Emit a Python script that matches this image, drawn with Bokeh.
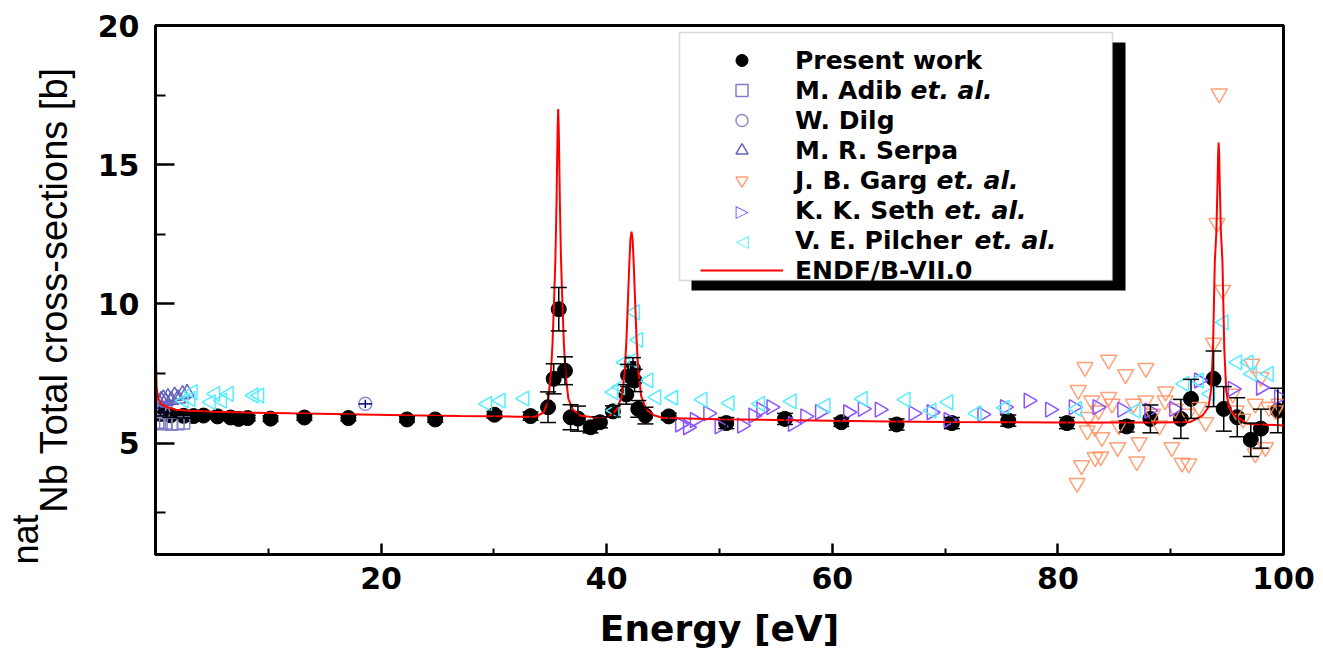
import numpy as np
from bokeh.plotting import figure
from bokeh.models import (Range1d, FixedTicker, Legend, LegendItem, ColumnDataSource,
                          Whisker, TeeHead, BoxAnnotation, Label, Title)
from bokeh.embed import file_html
from bokeh.resources import INLINE

# ---------------- data ----------------
pw_energy = [0.44, 1.33, 2.49, 3.37, 4.26, 5.5, 6.66, 7.37, 8.17, 10.2, 13.2, 17.1, 22.3, 24.8,
             30.05, 33.25, 34.8, 35.3, 35.75, 36.3, 36.8, 37.45, 38.57, 39.4, 40.55, 41.74, 41.9,
             42.33, 42.47, 42.8, 43.43, 45.5, 50.6, 55.8, 60.8, 65.7, 70.6, 75.6, 80.8, 86.1,
             88.2, 90.9, 91.8, 93.8, 94.7, 95.9, 97.1, 98.0, 99.5]
pw_sigma = [6.05, 6.0, 5.98, 5.97, 5.99, 5.96, 5.92, 5.87, 5.9, 5.88, 5.92, 5.9, 5.85, 5.85,
            6.02, 5.97, 6.29, 7.31, 9.81, 7.6, 5.93, 5.88, 5.57, 5.75, 6.14, 6.75, 7.43,
            7.67, 7.25, 6.23, 5.99, 5.96, 5.72, 5.87, 5.75, 5.67, 5.72, 5.81, 5.72, 5.6,
            5.87, 5.87, 6.59, 7.31, 6.23, 5.93, 5.12, 5.52, 6.17]
pw_err = [0.08, 0.08, 0.08, 0.08, 0.08, 0.08, 0.1, 0.1, 0.1, 0.1, 0.1, 0.1, 0.1, 0.1,
          0.12, 0.15, 0.55, 0.54, 0.78, 0.5, 0.45, 0.45, 0.2, 0.2, 0.2, 0.35, 0.4,
          0.4, 0.4, 0.3, 0.3, 0.12, 0.2, 0.2, 0.15, 0.2, 0.2, 0.2, 0.2, 0.2,
          0.5, 0.7, 0.7, 1.0, 0.8, 0.7, 0.6, 0.7, 0.8]

adib_energy = [0.2, 0.5, 0.9, 1.4, 2.0, 2.5]
adib_sigma = [5.75, 5.7, 5.72, 5.68, 5.7, 5.72]

dilg_energy = [0.35, 0.7, 18.6]
dilg_sigma = [6.25, 6.1, 6.41]
dilg_sigma_err = [0.05, 0.05, 0.15]
dilg_energy_err = [0.1, 0.1, 0.6]

serpa_energy = [0.3, 0.5, 0.7, 0.9, 1.1, 1.4, 1.7, 2.0, 2.4, 2.8]
serpa_sigma = [6.45, 6.55, 6.6, 6.5, 6.65, 6.55, 6.7, 6.6, 6.75, 6.8]

garg_energy = [81.7, 81.8, 82.1, 82.4, 82.6, 82.7, 83.0, 83.3, 83.3, 83.6, 83.8, 83.9, 84.5,
               84.5, 84.8, 85.3, 85.4, 86.0, 86.7, 87.0, 87.2, 87.8, 87.8, 88.4, 89.0, 89.5,
               89.55, 90.1, 90.4, 91.0, 91.5, 91.6, 92.5, 93.1, 93.8, 94.1, 94.3, 94.6, 95.5,
               95.8, 96.4, 97.2, 97.5, 97.5, 98.0, 98.4, 98.7, 99.3, 99.6]
garg_sigma = [3.56, 6.9, 4.2, 7.73, 5.45, 5.93, 6.53, 4.49, 5.57, 6.17, 4.52, 5.21, 7.99,
              6.65, 6.41, 4.85, 5.63, 7.47, 6.41, 4.34, 5.03, 7.69, 6.53, 6.05, 5.63, 6.53,
              6.85, 4.85, 6.23, 4.29, 6.05, 4.26, 6.29, 5.75, 8.6, 12.9, 17.55, 10.5, 6.77,
              6.17, 5.87, 7.85, 6.41, 4.62, 7.37, 4.85, 6.29, 6.17, 6.41]

seth_energy = [46.5, 47.2, 47.8, 49.0, 50.0, 52.0, 53.0, 53.7, 54.6, 56.5, 57.6, 58.9, 61.4,
               62.7, 64.2, 67.2, 68.8, 70.3, 73.3, 75.3, 77.4, 79.3, 81.4, 83.5, 85.7, 88.1,
               90.3, 92.5, 95.5, 98.0, 99.6]
seth_sigma = [5.67, 5.57, 5.83, 6.07, 5.6, 5.63, 5.99, 6.2, 6.29, 5.69, 5.96, 6.11, 6.11,
              6.23, 6.2, 6.07, 6.11, 5.83, 6.03, 6.29, 6.53, 6.2, 6.29, 6.29, 6.2, 6.17,
              6.23, 7.25, 6.95, 6.99, 6.65]

pilcher_energy = [2.5, 3.1, 3.3, 4.9, 5.3, 5.9, 6.5, 8.7, 9.2, 29.4, 30.6, 32.7, 40.6, 40.7,
                  41.2, 41.6, 42.3, 42.5, 42.8, 43.7, 44.4, 45.9, 48.5, 50.9, 53.6, 56.4, 59.4,
                  62.7, 66.5, 68.8, 70.3, 72.8, 75.3, 81.7, 86.9, 91.2, 92.5, 93.5, 94.7, 95.9,
                  96.9, 97.2, 98.7]
pilcher_sigma = [6.53, 6.59, 6.83, 6.47, 6.77, 6.53, 6.77, 6.71, 6.71, 6.41, 6.53, 6.6, 6.83,
                 6.17, 7.01, 7.9, 7.97, 9.7, 8.71, 7.25, 6.65, 6.63, 6.56, 6.44, 6.41, 6.5, 6.35,
                 6.59, 6.56, 6.17, 6.47, 6.07, 6.27, 6.23, 6.17, 7.13, 7.25, 6.77, 9.34, 7.9,
                 7.9, 7.49, 7.49]

endf_energy = [0.02, 0.06, 0.1, 0.25, 0.5, 1.0, 1.8, 3.0, 5.0, 8.0, 12.0, 17.0, 22.0, 27.0,
               32.0, 33.7, 34.4, 34.8, 35.05, 35.2, 35.35, 35.45, 35.55, 35.6, 35.65, 35.7,
               35.75, 35.8, 35.85, 35.95, 36.05, 36.2, 36.35, 36.6, 37.0, 37.7, 39.0, 40.2,
               40.9, 41.35, 41.6, 41.75, 41.9, 42.0, 42.1, 42.2, 42.3, 42.4, 42.5, 42.65,
               42.8, 43.05, 43.5, 44.2, 45.0, 50.0, 55.0, 60.0, 65.0, 70.0, 75.0, 80.0, 85.0,
               89.0, 91.75, 92.85, 93.35, 93.58, 93.75, 93.91, 94.05, 94.15, 94.2, 94.25,
               94.3, 94.35, 94.45, 94.59, 94.75, 94.92, 95.15, 95.65, 96.75, 100.0]
endf_sigma = [8.9, 7.8, 7.0, 6.6, 6.4, 6.3, 6.2, 6.16, 6.13, 6.1, 6.07, 6.04, 6.0, 5.97,
              5.95, 5.95, 6.1, 6.5, 7.5, 8.6, 10.3, 11.6, 13.6, 15.0, 16.3, 17.0,
              16.3, 15.0, 13.6, 11.6, 10.3, 8.6, 7.5, 6.6, 6.2, 5.98, 5.92, 5.95,
              6.2, 6.7, 7.6, 8.7, 10.3, 11.4, 12.3, 12.6, 12.3, 11.4, 10.3, 8.7,
              7.6, 6.7, 6.2, 6.0, 5.9, 5.86, 5.83, 5.8, 5.78, 5.76, 5.75, 5.74, 5.74,
              5.74, 5.76, 6.0, 6.3, 6.9, 8.4, 11.5, 12.6, 14.3, 15.3, 15.8,
              15.3, 14.3, 12.6, 11.5, 8.4, 6.9, 6.3, 6.0, 5.7, 5.63]

x_ticks = [20, 40, 60, 80, 100]
x_minor = [10, 30, 50, 70, 90]
y_ticks = [5, 10, 15, 20]
y_minor = [2.5, 7.5, 12.5, 17.5]

legend_labels = ["Present work", "M. Adib", "W. Dilg", "M. R. Serpa", "J. B. Garg",
                 "K. K. Seth", "V. E. Pilcher", "ENDF/B-VII.0"]
italic_suffix = "et. al."

# ---------------- figure ----------------
p = figure(width=1323, height=654, output_backend="svg", toolbar_location=None,
           x_range=Range1d(0, 100), y_range=Range1d(1, 20),
           min_border_left=155, min_border_right=40, min_border_top=25, min_border_bottom=100)
p.grid.visible = False
p.background_fill_color = "white"
p.border_fill_color = "white"
p.outline_line_color = "black"
p.outline_line_width = 3

tick_font = "DejaVu Sans"
for ax in (p.xaxis[0], p.yaxis[0]):
    ax.axis_line_width = 3
    ax.axis_line_color = "black"
    ax.major_tick_out = 0
    ax.minor_tick_out = 0
    ax.major_tick_line_width = 2.5
    ax.minor_tick_line_width = 2
    ax.major_label_text_font = tick_font
    ax.major_label_text_font_style = "bold"
    ax.major_label_text_font_size = "30px"
    ax.major_label_text_color = "black"
    ax.axis_label_text_color = "black"

p.xaxis.ticker = FixedTicker(ticks=x_ticks, minor_ticks=x_minor)
p.xaxis.major_tick_in = 11
p.xaxis.minor_tick_in = 6
p.xaxis.major_label_standoff = 12
p.xaxis.axis_label = "Energy [eV]"
p.xaxis.axis_label_text_font = "DejaVu Sans"
p.xaxis.axis_label_text_font_style = "bold"
p.xaxis.axis_label_text_font_size = "36px"
p.xaxis.axis_label_standoff = 16

p.yaxis.ticker = FixedTicker(ticks=y_ticks, minor_ticks=y_minor)
p.yaxis.major_tick_in = 19
p.yaxis.minor_tick_in = 10
p.yaxis.major_label_standoff = 16
p.yaxis.axis_label = "Nb Total cross-sections [b]"
p.yaxis.axis_label_text_font = "Liberation Sans"
p.yaxis.axis_label_text_font_style = "normal"
p.yaxis.axis_label_text_font_size = "38px"
p.yaxis.axis_label_standoff = 20

# superscript "nat" in front of the y-axis title
p.add_layout(Title(text="nat", align="left", offset=-10, standoff=-32,
                   text_font="Liberation Sans", text_font_style="normal",
                   text_font_size="36px", text_color="black"), "left")

# ---------------- glyphs ----------------
pw_src = ColumnDataSource(dict(
    x=pw_energy, y=pw_sigma,
    upper=[s + e for s, e in zip(pw_sigma, pw_err)],
    lower=[s - e for s, e in zip(pw_sigma, pw_err)]))
pw_wh = Whisker(source=pw_src, base="x", upper="upper", lower="lower", level="glyph",
                line_color="black", line_width=1.5,
                upper_head=TeeHead(size=16, line_color="black", line_width=1.5),
                lower_head=TeeHead(size=16, line_color="black", line_width=1.5))
p.add_layout(pw_wh)
pw = p.scatter("x", "y", source=pw_src, marker="circle", size=15,
               fill_color="black", line_color="black")

adib = p.scatter(adib_energy, adib_sigma, marker="square", size=12, fill_color=None,
                 line_color="#8080C8", line_width=1.5)

dilg_src = ColumnDataSource(dict(
    x=dilg_energy, y=dilg_sigma,
    up=[s + e for s, e in zip(dilg_sigma, dilg_sigma_err)],
    lo=[s - e for s, e in zip(dilg_sigma, dilg_sigma_err)],
    xr=[x + e for x, e in zip(dilg_energy, dilg_energy_err)],
    xl=[x - e for x, e in zip(dilg_energy, dilg_energy_err)]))
dilg = p.scatter("x", "y", source=dilg_src, marker="circle", size=13, fill_color=None,
                 line_color="#8C8CD0", line_width=1.5)
p.add_layout(Whisker(source=dilg_src, base="x", upper="up", lower="lo", level="glyph",
                     line_color="#000080", line_width=1.5, upper_head=None, lower_head=None))
p.add_layout(Whisker(source=dilg_src, base="y", upper="xr", lower="xl", dimension="width",
                     level="glyph", line_color="#000080", line_width=1.5,
                     upper_head=None, lower_head=None))

serpa = p.scatter(serpa_energy, serpa_sigma, marker="triangle", size=15, fill_color=None,
                  line_color="#6464BE", line_width=1.5)
garg = p.scatter(garg_energy, garg_sigma, marker="inverted_triangle", size=16, fill_color=None,
                 line_color="#FF9060", line_width=1.5, line_alpha=0.85)
seth_color = "#8A55FF"
pilcher_color = "#55EEFF"
seth = p.scatter(seth_energy, seth_sigma, marker="triangle", angle=-np.pi / 2, size=15,
                 fill_color=None, line_color=seth_color, line_width=1.5)
pilcher = p.scatter(pilcher_energy, pilcher_sigma, marker="triangle", angle=np.pi / 2, size=15,
                    fill_color=None, line_color=pilcher_color, line_width=1.5)
endf = p.line(endf_energy, endf_sigma, line_color="red", line_width=2)

# legend keys for the sideways triangles (legend glyphs are never rotated)
seth_key = p.scatter(x=[], y=[], marker="circle", size=1, fill_alpha=0, line_alpha=0)
pilcher_key = p.scatter(x=[], y=[], marker="circle", size=1, fill_alpha=0, line_alpha=0)

# ---------------- legend ----------------
shadow = BoxAnnotation(left=536, right=970, top=512, bottom=264,
                       left_units="screen", right_units="screen",
                       top_units="screen", bottom_units="screen",
                       fill_color="black", fill_alpha=1.0, line_color=None)
box = BoxAnnotation(left=524, right=957, top=522, bottom=274,
                    left_units="screen", right_units="screen",
                    top_units="screen", bottom_units="screen",
                    fill_color="white", fill_alpha=1.0, line_color="#808080", line_width=1.5)
p.add_layout(shadow)
p.add_layout(box)

renderers = [pw, adib, dilg, serpa, garg, seth_key, pilcher_key, endf]
items = [LegendItem(label=lab, renderers=[r]) for lab, r in zip(legend_labels, renderers)]
legend = Legend(items=items, location=(545, 269), orientation="vertical",
                padding=0, margin=0, spacing=0, glyph_width=83, glyph_height=30,
                label_height=30, label_standoff=12,
                label_text_font="DejaVu Sans", label_text_font_style="bold",
                label_text_font_size="25px", label_text_color="black",
                background_fill_alpha=0, border_line_alpha=0)
p.add_layout(legend, "center")

for sym, col, ys in [("\u25B7", seth_color, 344), ("\u25C1", pilcher_color, 314)]:
    p.add_layout(Label(x=586.5, y=ys, x_units="screen", y_units="screen", text=sym,
                       text_font="DejaVu Sans", text_font_size="17px",
                       text_align="center", text_baseline="middle", text_color=col))

for xs, ys in [(755, 464), (781, 374), (789, 344), (819, 314)]:
    p.add_layout(Label(x=xs, y=ys, x_units="screen", y_units="screen", text=italic_suffix,
                       text_font="DejaVu Sans", text_font_style="bold italic",
                       text_font_size="25px", text_baseline="middle", text_align="left",
                       text_color="black"))

open("out.html", "w").write(file_html(p, INLINE))
